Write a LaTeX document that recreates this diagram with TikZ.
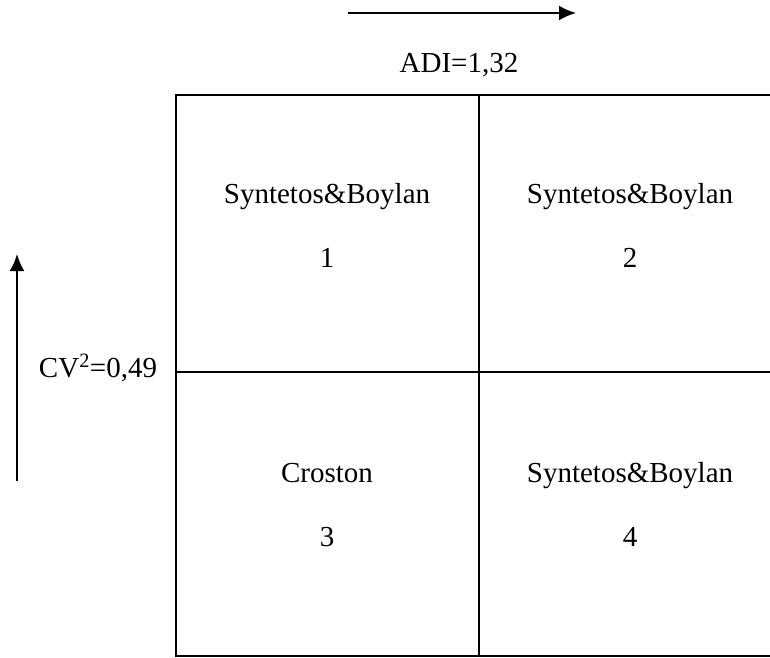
\documentclass[tikz,border=0pt]{standalone}
\usepackage{fontspec}
\setmainfont{Liberation Serif}
\usetikzlibrary{arrows.meta}
\usetikzlibrary{positioning}

\begin{document}
\begin{tikzpicture}[x=1pt,y=-1pt,font=\fontsize{29}{29}\selectfont]
\useasboundingbox (0,0) rectangle (770,657);
\clip (0,0) rectangle (770,657);
% grid corners
\path (176,95) coordinate(tl_0);
\path (782,656) coordinate(br_0);
\path (479,95) coordinate(tm_0);
\path (479,656) coordinate(bm_0);
\path (176,372) coordinate(ml_0);
\path (782,372) coordinate(mr_0);
\draw[line width=2.4pt] (tl_0) rectangle (br_0);
\draw[line width=2.4pt] (tm_0) -- (bm_0);
\draw[line width=2.4pt] (ml_0) -- (mr_0);
% axes arrows
\path (348,13) coordinate(adi_s);
\path (576,13) coordinate(adi_e);
\path (17,481) coordinate(cv_s);
\path (17,254) coordinate(cv_e);
\draw[line width=2.2pt,-{Latex[length=17pt,width=15pt]}] (adi_s) -- (adi_e);
\draw[line width=2.2pt,-{Latex[length=17pt,width=15pt]}] (cv_s) -- (cv_e);
% labels
\path (459,72) node(adi) [anchor=base,inner sep=0pt] {ADI=1,32};
\path (98,377) node(cv) [anchor=base,inner sep=0pt] {CV\textsuperscript{2}=0,49};
\path (327,203) node(m1) [anchor=base,inner sep=0pt] {Syntetos\&Boylan};
\path (327,267) node(n1) [anchor=base,inner sep=0pt] {1};
\path (630,203) node(m2) [anchor=base,inner sep=0pt] {Syntetos\&Boylan};
\path (630,267) node(n2) [anchor=base,inner sep=0pt] {2};
\path (327,482) node(m3) [anchor=base,inner sep=0pt] {Croston};
\path (327,546) node(n3) [anchor=base,inner sep=0pt] {3};
\path (630,482) node(m4) [anchor=base,inner sep=0pt] {Syntetos\&Boylan};
\path (630,546) node(n4) [anchor=base,inner sep=0pt] {4};
\end{tikzpicture}
\end{document}
